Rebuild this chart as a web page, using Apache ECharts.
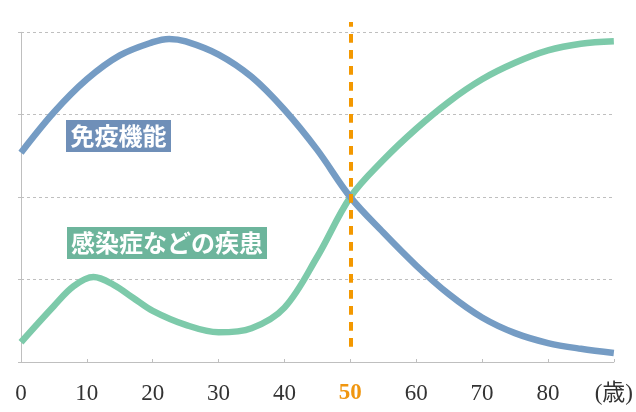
<!DOCTYPE html>
<html>
<head>
<meta charset="utf-8">
<script src="https://cdn.jsdelivr.net/npm/echarts@6/dist/echarts.min.js"></script>
<style>html,body{margin:0;padding:0;background:#fff}#c{width:636px;height:412px}</style>
</head>
<body>
<div id="c"></div>
<script>
var immuneAges = [0,5,10,15,20,22.5,25,30,35,40,45,50,55,60,65,70,75,80,85,90];
var immune     = [2.54,3.03,3.43,3.72,3.88,3.92,3.89,3.73,3.46,3.06,2.57,2.00,1.57,1.17,0.82,0.54,0.35,0.23,0.16,0.11];
var diseaseAges = [0,5,8,11,14,17,20,25,30,35,40,45,50,55,60,65,70,75,80,85,90];
var disease     = [0.24,0.68,0.92,1.03,0.94,0.78,0.62,0.45,0.36,0.41,0.66,1.28,2.00,2.45,2.83,3.16,3.43,3.63,3.78,3.86,3.89];
var xTicks = ['0','10','20','30','40','50','60','70','80','(歳)'];
var highlightAge = 50;
var labelImmune = '免疫機能';
var labelDisease = '感染症などの疾患';

function pairs(xs, ys){ return xs.map(function(x,i){return [x, ys[i]];}); }

var chart = echarts.init(document.getElementById('c'), null, {renderer:'canvas'});
chart.setOption({
  animation:false,
  grid:[
    {left:21,right:21,top:32.3,bottom:50,containLabel:false},
    {left:21,right:21,top:22,bottom:65.3,containLabel:false}
  ],
  xAxis:[{
    type:'value',min:0,max:90,interval:10,gridIndex:0,
    axisLine:{lineStyle:{color:'#bfbfbf',width:1}},
    axisTick:{show:true,inside:true,length:3,lineStyle:{color:'#bfbfbf'}},
    splitLine:{show:false},
    axisLabel:{
      margin:20,
      fontFamily:'"Liberation Serif","Noto Sans CJK JP",serif',
      fontSize:23,color:'#333',
      formatter:function(v){
        var t = xTicks[Math.round(v/10)];
        if (v === highlightAge) return '{h|'+t+'}';
        return t;
      },
      rich:{h:{color:'#F0960F',fontWeight:'bold',fontSize:23,fontFamily:'"Liberation Serif",serif'}}
    }
  },{
    type:'value',min:0,max:90,gridIndex:1,show:false
  }],
  yAxis:[{
    type:'value',min:0,max:4,interval:1,gridIndex:0,
    axisLine:{show:true,lineStyle:{color:'#bfbfbf'}},
    axisTick:{show:true,length:3,lineStyle:{color:'#bfbfbf'}},
    axisLabel:{show:false},
    splitLine:{show:true,lineStyle:{color:'#bfbfbf',type:[3,3],width:1}}
  },{
    type:'value',min:0,max:1,gridIndex:1,show:false
  }],
  series:[
    {
      type:'line',data:pairs(immuneAges,immune),smooth:0.35,symbol:'none',
      lineStyle:{color:'#759CC4',width:6.5},z:3
    },
    {
      type:'line',data:pairs(diseaseAges,disease),smooth:0.35,symbol:'none',
      lineStyle:{color:'#7DCAAA',width:6.5},z:2
    },
    {
      type:'line',xAxisIndex:1,yAxisIndex:1,data:[[highlightAge,1],[highlightAge,0]],
      symbol:'none',silent:true,clip:false,z:4,
      lineStyle:{color:'#F39800',width:4,type:[8.7,7.3],dashOffset:4}
    }
  ],
  graphic:[
    {type:'text',left:66,top:120,z:10,style:{text:labelImmune,fill:'#fff',font:'bold 24px "Noto Sans CJK JP"',backgroundColor:'#6F8FB8',padding:[4,4.5,4,4.5],lineHeight:24}},
    {type:'text',left:67,top:227,z:10,style:{text:labelDisease,fill:'#fff',font:'bold 24px "Noto Sans CJK JP"',backgroundColor:'#6DB59C',padding:[4,4,4,4],lineHeight:24}}
  ]
});
</script>
</body>
</html>
